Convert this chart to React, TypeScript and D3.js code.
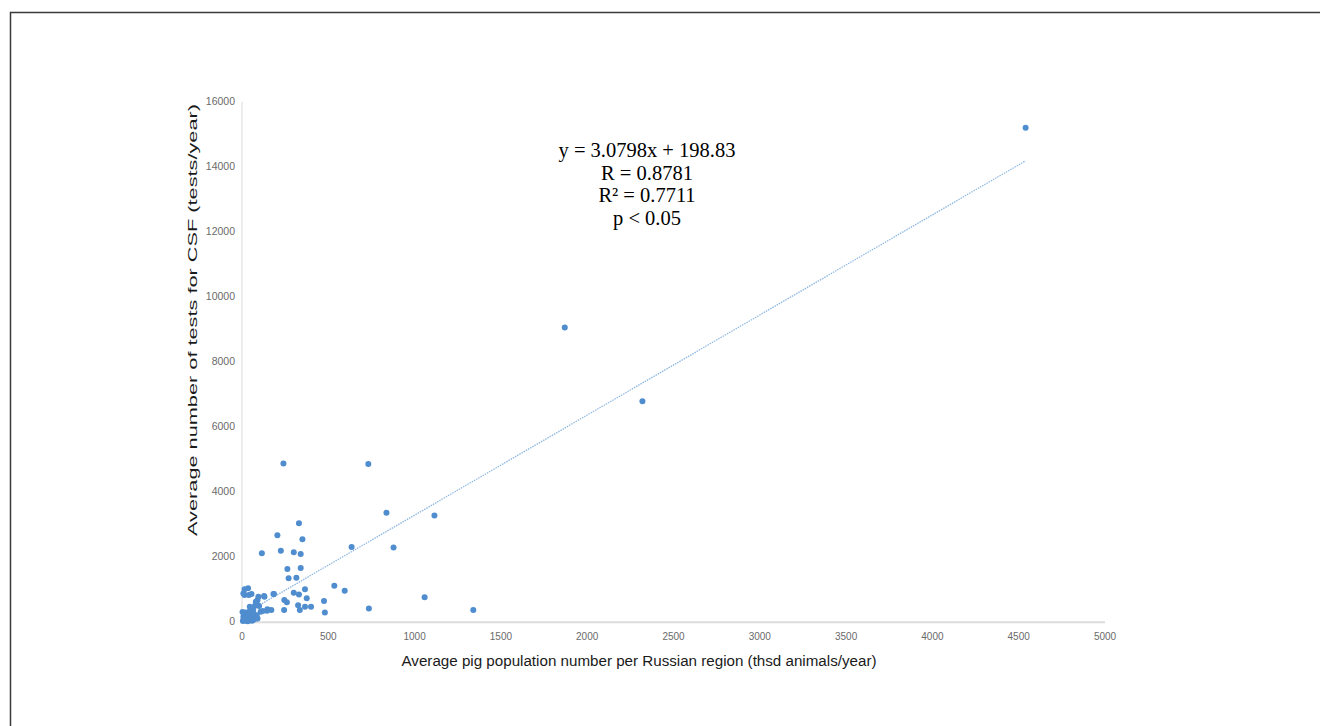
import * as d3 from 'd3'
import { useEffect, useRef } from 'react'

// pig population (thsd animals/year) vs CSF tests/year, one point per region
const popX = [
  4540, 1870, 2320, 1115, 837, 732, 240, 635, 878, 1058, 1340, 735,
  330, 205, 350, 115, 225, 300, 340, 263, 340, 270, 315, 365, 535, 595,
  475, 480, 300, 330, 375, 325, 335, 365, 400, 245, 260, 244, 185, 130,
  120, 145, 170, 90, 85, 75, 95, 55, 15, 35, 15, 45, 65, 8, 40, 128,
  182, 80, 99, 147, 108,
  5, 10, 15, 20, 25, 30, 8, 12, 18, 22, 35, 40, 45, 50, 55, 60, 65, 70,
  75, 80, 28, 38, 48, 3, 10, 33, 58, 42, 68, 85, 90,
]
const testsY = [
  15200, 9050, 6780, 3270, 3350, 4850, 4870, 2300, 2280, 755, 360, 410,
  3030, 2660, 2540, 2110, 2180, 2140, 2080, 1620, 1650, 1335, 1350, 1000, 1110, 950,
  640, 280, 890, 840, 720, 510, 360, 460, 460, 670, 600, 360, 850, 770,
  330, 340, 360, 670, 570, 490, 770, 850, 1000, 1030, 820, 460, 360, 870, 820, 790,
  850, 615, 483, 380, 308,
  20, 50, 80, 30, 120, 60, 150, 200, 250, 280, 100, 40, 150, 70, 200, 110, 50, 160,
  90, 130, 180, 220, 260, 300, 100, 15, 30, 310, 240, 200, 100,
]

const xTicks = [0, 500, 1000, 1500, 2000, 2500, 3000, 3500, 4000, 4500, 5000]
const yTicks = [0, 2000, 4000, 6000, 8000, 10000, 12000, 14000, 16000]

const slope = 3.0798
const intercept = 198.83
const statLines = ['y = 3.0798x + 198.83', 'R = 0.8781', 'R\u00b2 = 0.7711', 'p < 0.05']

const xTitle = 'Average pig population number per Russian region (thsd animals/year)'
const yTitle = 'Average number of tests for CSF (tests/year)'

const App = () => {
  const ref = useRef<SVGSVGElement>(null)

  useEffect(() => {
    const svg = d3.select(ref.current)
    svg.selectAll('*').remove()

    const x = d3.scaleLinear().domain([0, 5000]).range([242, 1105])
    const y = d3.scaleLinear().domain([0, 16000]).range([621.7, 101.7])

    // frame (only top and left survive the crop)
    svg
      .append('path')
      .attr('d', 'M10.5,726 L10.5,12.5 L1320,12.5')
      .attr('fill', 'none')
      .attr('stroke', '#3a3a3a')
      .attr('stroke-width', 1.5)

    // axis lines
    svg
      .append('line')
      .attr('x1', x(0))
      .attr('x2', x(0))
      .attr('y1', y(16000))
      .attr('y2', y(0))
      .attr('stroke', '#d9d9d9')
      .attr('stroke-width', 1)
    svg
      .append('line')
      .attr('x1', x(0))
      .attr('x2', x(5000))
      .attr('y1', y(0) + 0.5)
      .attr('y2', y(0) + 0.5)
      .attr('stroke', '#dcdcdc')
      .attr('stroke-width', 2)

    // tick labels
    svg
      .append('g')
      .selectAll('text')
      .data(xTicks)
      .join('text')
      .attr('x', (d) => x(d))
      .attr('y', 640)
      .attr('text-anchor', 'middle')
      .attr('font-family', 'Liberation Sans, Arial, sans-serif')
      .attr('font-size', 10)
      .attr('fill', '#6a6a6a')
      .text((d) => d)

    svg
      .append('g')
      .selectAll('text')
      .data(yTicks)
      .join('text')
      .attr('x', 235)
      .attr('y', (d) => y(d) + 3.5)
      .attr('text-anchor', 'end')
      .attr('font-family', 'Liberation Sans, Arial, sans-serif')
      .attr('font-size', 10.5)
      .attr('fill', '#6a6a6a')
      .text((d) => d)

    // trend line
    const xMin = d3.min(popX) as number
    const xMax = d3.max(popX) as number
    svg
      .append('line')
      .attr('x1', x(xMin))
      .attr('y1', y(slope * xMin + intercept))
      .attr('x2', x(xMax))
      .attr('y2', y(slope * xMax + intercept))
      .attr('stroke', '#8fb8e0')
      .attr('stroke-width', 1.3)
      .attr('stroke-dasharray', '1.5,1')

    // points
    svg
      .append('g')
      .attr('fill', '#4f8dcf')
      .selectAll('circle')
      .data(popX)
      .join('circle')
      .attr('cx', (d) => x(d))
      .attr('cy', (d, i) => y(testsY[i]))
      .attr('r', 3)

    // regression stats
    svg
      .append('g')
      .selectAll('text')
      .data(statLines)
      .join('text')
      .attr('x', 647)
      .attr('y', (d, i) => 157 + i * 22.5)
      .attr('text-anchor', 'middle')
      .attr('font-family', 'Liberation Serif, Times New Roman, serif')
      .attr('font-size', 20.5)
      .attr('fill', '#000')
      .text((d) => d)

    // axis titles
    svg
      .append('text')
      .attr('x', 639)
      .attr('y', 666)
      .attr('text-anchor', 'middle')
      .attr('font-family', 'Liberation Sans, Arial, sans-serif')
      .attr('font-size', 14)
      .attr('fill', '#1a1a1a')
      .attr('textLength', 475)
      .attr('lengthAdjust', 'spacingAndGlyphs')
      .text(xTitle)

    svg
      .append('text')
      .attr('transform', 'translate(197, 320) rotate(-90)')
      .attr('text-anchor', 'middle')
      .attr('font-family', 'Liberation Sans, Arial, sans-serif')
      .attr('font-size', 13.5)
      .attr('fill', '#1a1a1a')
      .attr('textLength', 432)
      .attr('lengthAdjust', 'spacingAndGlyphs')
      .text(yTitle)
  }, [])

  return (
    <div style={{ position: 'fixed', left: 0, top: 0, background: '#fff' }}>
      <svg ref={ref} width={1320} height={726}></svg>
    </div>
  )
}
export default App
